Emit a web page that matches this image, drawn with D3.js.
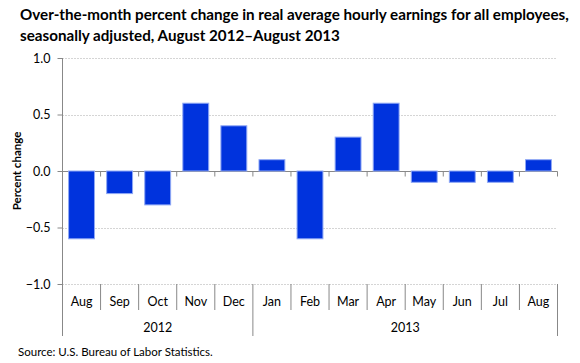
<!DOCTYPE html>
<html>
<head>
<meta charset="utf-8">
<script src="https://cdn.jsdelivr.net/npm/d3@7"></script>
<style>
  body { margin: 0; background: #fff; }
  text { font-family: Lato, "Open Sans", sans-serif; fill: #000; }
</style>
</head>
<body>
<svg width="580" height="363"></svg>
<script>
(function () {
  var months = ["Aug", "Sep", "Oct", "Nov", "Dec", "Jan", "Feb", "Mar", "Apr", "May", "Jun", "Jul", "Aug"];
  var years = [{ name: "2012", count: 5 }, { name: "2013", count: 8 }];
  var values = [-0.6, -0.2, -0.3, 0.6, 0.4, 0.1, -0.6, 0.3, 0.6, -0.1, -0.1, -0.1, 0.1];
  var yTicks = [-1.0, -0.5, 0.0, 0.5, 1.0];

  var svg = d3.select("svg");
  var left = 62.5, right = 557.5, top = 58, bottom = 284;

  var x = d3.scaleBand()
    .domain(d3.range(months.length))
    .range([left, right])
    .paddingInner(0.32)
    .paddingOuter(0.16);

  var y = d3.scaleLinear().domain([-1, 1]).range([bottom, top]);

  // title
  var title = svg.append("text")
    .attr("x", 20)
    .attr("font-size", 15.2)
    .attr("font-weight", "bold");
  title.append("tspan").attr("x", 20).attr("y", 20)
    .text("Over-the-month percent change in real average hourly earnings for all employees,");
  title.append("tspan").attr("x", 20).attr("y", 41)
    .text("seasonally adjusted, August 2012\u2013August 2013");

  // gridlines
  svg.append("g")
    .selectAll("line")
    .data(yTicks.filter(d => d !== 0))
    .enter()
    .append("line")
    .attr("x1", left).attr("x2", right)
    .attr("y1", d => Math.round(y(d)) + 0.5).attr("y2", d => Math.round(y(d)) + 0.5)
    .attr("stroke", "#aaa")
    .attr("stroke-dasharray", "1,2");

  // y axis
  var yAxis = svg.append("g")
    .attr("transform", `translate(${left},0)`)
    .call(d3.axisLeft(y).tickValues(yTicks).tickFormat(d3.format(".1f")).tickSize(5).tickPadding(7));
  yAxis.select(".domain").remove();
  yAxis.selectAll("line").attr("stroke", "#888");
  yAxis.selectAll("text").attr("font-size", 12.5).attr("font-family", "Lato, sans-serif");
  svg.append("line")
    .attr("x1", left).attr("x2", left)
    .attr("y1", top).attr("y2", 336)
    .attr("stroke", "#888");

  svg.append("text")
    .attr("transform", `translate(21,${y(0)}) rotate(-90)`)
    .attr("text-anchor", "middle")
    .attr("font-size", 11.5)
    .attr("font-weight", "bold")
    .text("Percent change");

  // zero line with category ticks
  var y0 = Math.round(y(0)) + 0.5;
  svg.append("line")
    .attr("x1", left).attr("x2", right)
    .attr("y1", y0).attr("y2", y0)
    .attr("stroke", "#888");
  var step = x.step();
  svg.append("g")
    .selectAll("line")
    .data(d3.range(1, months.length + 1))
    .enter()
    .append("line")
    .attr("x1", i => left + i * step).attr("x2", i => left + i * step)
    .attr("y1", y0).attr("y2", y0 + 5)
    .attr("stroke", "#888");

  // bars
  svg.append("g")
    .selectAll("rect")
    .data(values)
    .enter()
    .append("rect")
    .attr("x", (d, i) => x(i))
    .attr("width", x.bandwidth())
    .attr("y", d => y(Math.max(0, d)))
    .attr("height", d => Math.abs(y(d) - y(0)))
    .attr("fill", "#0033dd")
    .attr("stroke", "#8fa8f5")
    .attr("stroke-width", 1);

  // category label block
  svg.append("g")
    .selectAll("line")
    .data(d3.range(1, months.length + 1))
    .enter()
    .append("line")
    .attr("x1", i => left + i * step).attr("x2", i => left + i * step)
    .attr("y1", bottom).attr("y2", i => (i === 5 || i === months.length) ? 336 : 310)
    .attr("stroke", "#888");

  svg.append("g")
    .selectAll("text")
    .data(months)
    .enter()
    .append("text")
    .attr("x", (d, i) => left + (i + 0.5) * step)
    .attr("y", 306)
    .attr("text-anchor", "middle")
    .attr("font-size", 12.5)
    .text(d => d);

  var acc = 0;
  years.forEach(function (yr) {
    svg.append("text")
      .attr("x", left + (acc + yr.count / 2) * step)
      .attr("y", 332)
      .attr("text-anchor", "middle")
      .attr("font-size", 12.5)
      .text(yr.name);
    acc += yr.count;
  });

  svg.append("text")
    .attr("x", 18)
    .attr("y", 356)
    .attr("font-size", 11.5)
    .text("Source: U.S. Bureau of Labor Statistics.");
})();
</script>
</body>
</html>
